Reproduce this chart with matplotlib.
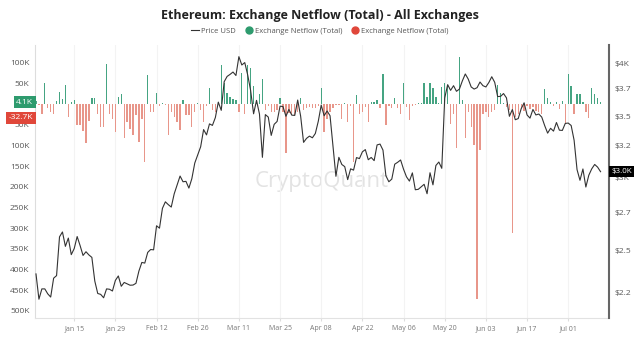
import numpy as np
import pandas as pd
import matplotlib.pyplot as plt
import matplotlib.dates as mdates
from matplotlib.lines import Line2D

plt.rcParams['font.family'] = ['Open Sans', 'DejaVu Sans']

# daily data, 2024-01-02 .. 2024-07-12
dates = pd.date_range('2024-01-02', periods=193, freq='D')

# exchange netflow in thousands of ETH
netflow_jan = [8, -3, -25, 50, -10, -20, -25, 8, 30, 12, 47, -30, 6, 10, -50,
               -50, -65, -95, -40, 14, 14, -25, -55, -55, 96, -25, -35, -68, 18, 24]
netflow_feb = [-83, -42, -60, -75, -27, -91, -35, -139, 70, -18, -18, 26, -5, 2, -3,
               -75, -20, -30, -43, -63, 10, -27, -27, -55, -18, 3, -15, -43, -5]
netflow_mar = [38, -15, -18, 3, 94, 50, 26, 18, 12, 10, -20, 75, -25, 95, 88, 45,
               10, 25, 60, -15, -5, -18, -18, -15, 15, -18, -119, -22, -27, -27, -18]
netflow_apr = [15, -15, -10, -7, -10, -10, -5, 38, -67, -35, -19, -10, -2, -2, -35,
               2, -43, -5, -139, 23, -23, -19, -6, -43, 6, 6, 10, -10, 74, -51]
netflow_may = [-5, -10, 14, -10, -23, 50, -6, -39, -5, -3, 3, 3, 52, 18, 50, 38,
               18, 2, 42, 52, 46, -47, -23, -107, 114, 10, -83, -19, -55, -99, -470]
netflow_jun = [-111, -23, -19, -31, -19, -14, 46, 26, 2, -6, -14, -312, -31, -23, -10,
               -16, -5, -12, -8, -16, -20, -24, 36, 16, 6, -4, 6, -12, 8, -48]
netflow_jul = [72, 44, -24, 24, 24, 6, -20, -32.7, 40, 24, 16, 4.1]

# ETH price in USD
price_jan = [2355, 2210, 2268, 2268, 2240, 2222, 2330, 2345, 2585, 2617, 2524, 2577,
             2472, 2510, 2587, 2529, 2467, 2490, 2470, 2455, 2313, 2242, 2237, 2218,
             2268, 2266, 2256, 2317, 2343, 2283]
price_feb = [2305, 2297, 2289, 2290, 2300, 2372, 2424, 2420, 2486, 2504, 2502, 2658,
             2642, 2777, 2823, 2803, 2786, 2880, 2944, 3012, 2969, 2972, 2922, 2992,
             3112, 3177, 3242, 3385, 3340]
price_mar = [3434, 3421, 3489, 3627, 3553, 3818, 3869, 3889, 3912, 3878, 4066, 3982,
             4006, 3883, 3734, 3522, 3643, 3520, 3157, 3515, 3493, 3336, 3430, 3455,
             3590, 3587, 3500, 3561, 3510, 3508, 3646]
price_apr = [3502, 3278, 3311, 3330, 3316, 3352, 3456, 3600, 3505, 3547, 3505, 3245,
             3010, 3157, 3101, 3084, 2985, 3067, 3057, 3155, 3147, 3201, 3219, 3138,
             3156, 3131, 3257, 3264, 3215, 3014]
price_may = [2969, 2989, 3103, 3118, 3136, 3064, 3006, 2974, 3036, 2910, 2913, 2931,
             2950, 2881, 3037, 2946, 3093, 3120, 3071, 3664, 3790, 3736, 3780, 3727,
             3748, 3826, 3893, 3843, 3768, 3748, 3761]
price_jun = [3815, 3780, 3768, 3810, 3866, 3812, 3678, 3680, 3706, 3666, 3500, 3560,
             3470, 3480, 3567, 3621, 3512, 3484, 3561, 3512, 3520, 3493, 3419, 3355,
             3396, 3372, 3446, 3380, 3378, 3438]
price_jul = [3441, 3420, 3296, 3061, 2980, 3066, 2930, 3018, 3067, 3101, 3080, 3045]

netflow = np.array(netflow_jan + netflow_feb + netflow_mar + netflow_apr
                   + netflow_may + netflow_jun + netflow_jul)
price = np.array(price_jan + price_feb + price_mar + price_apr
                 + price_may + price_jun + price_jul)

left_ticks = list(range(-500, 101, 50))
right_ticks = [2250, 2500, 2750, 3000, 3250, 3500, 3750, 4000]
right_labels = ['$2.2', '$2.5', '$2.7', '$3K', '$3.2', '$3.5', '$3.7', '$4K']
x_ticks = pd.date_range('2024-01-15', periods=13, freq='14D')

green = '#45a482'
red = '#e8968a'

fig = plt.figure(figsize=(6.4, 3.52), dpi=100)
ax = fig.add_axes([0.0547, 0.0966, 0.897, 0.775])
ax2 = ax.twinx()

pos = netflow >= 0
ax.bar(dates[pos], netflow[pos], width=0.45, color=green, linewidth=0)
ax.bar(dates[~pos], netflow[~pos], width=0.45, color=red, linewidth=0)
ax.set_ylim(-517, 142.5)
ax.set_yticks(left_ticks)
# the zero label sits under the 4.1K box, as in the reference
ax.set_yticklabels([f'{abs(v)}K' if v != 0 else '' for v in left_ticks])

ax2.plot(dates, price, color='#333333', lw=0.8)
ax2.set_yscale('log')
ax2.set_ylim(2108, 4185)
ax2.set_yticks(right_ticks)
ax2.set_yticklabels(right_labels)
ax2.yaxis.set_minor_locator(plt.NullLocator())

x0 = pd.Timestamp('2024-01-02') - pd.Timedelta(hours=8)
x1 = pd.Timestamp('2024-01-02') + pd.Timedelta(days=194.9)
ax.set_xlim(x0, x1)
ax.set_xticks(x_ticks)
ax.xaxis.set_major_formatter(mdates.DateFormatter('%b %d'))
ax.grid(axis='x', color='#f3f3f3', lw=0.8)
ax.set_axisbelow(True)

for a in (ax, ax2):
    a.spines['top'].set_visible(False)
    a.spines['left'].set_color('#dddddd')
    a.spines['bottom'].set_color('#e2e2e2')
    a.spines['right'].set_visible(False)
ax2.spines['right'].set_visible(True)
ax2.spines['right'].set_color('#666666')
ax2.spines['right'].set_linewidth(1.5)
ax2.spines['left'].set_visible(False)
ax2.spines['bottom'].set_visible(False)

ax.tick_params(axis='y', length=0, labelsize=6, colors='#555555', pad=4)
ax2.tick_params(axis='y', length=0, labelsize=6, colors='#555555', pad=4)
ax.tick_params(axis='x', length=2, color='#dddddd', labelsize=5, labelcolor='#777777', pad=3)

# value labels on the axes
ax.text(-0.003, 4.1, '4.1K', transform=ax.get_yaxis_transform(), ha='right', va='center',
        fontsize=6, color='white', zorder=10,
        bbox=dict(boxstyle='square,pad=0.3', fc='#2e9b6e', ec='none'))
ax.text(-0.003, -32.7, '-32.7K', transform=ax.get_yaxis_transform(), ha='right', va='center',
        fontsize=6, color='white', zorder=10,
        bbox=dict(boxstyle='square,pad=0.3', fc='#e0473a', ec='none'))
ax2.text(1.004, price[-1], '$3.0K', transform=ax2.get_yaxis_transform(), ha='left', va='center',
         fontsize=5.8, color='white', zorder=10,
         bbox=dict(boxstyle='square,pad=0.25', fc='black', ec='none'))

# watermark
ax.text(0.5, 0.5, 'CryptoQuant', transform=ax.transAxes, ha='center', va='center',
        fontsize=16, color='#e3e3e3', zorder=0)

fig.text(0.5, 0.957, 'Ethereum: Exchange Netflow (Total) - All Exchanges',
         ha='center', va='center', fontsize=9, fontweight='bold', color='#222222')
handles = [Line2D([], [], color='#333333', lw=0.8),
           Line2D([], [], marker='o', ls='', color='#2e9b6e', markersize=5),
           Line2D([], [], marker='o', ls='', color='#e0473a', markersize=5)]
fig.legend(handles, ['Price USD', 'Exchange Netflow (Total)', 'Exchange Netflow (Total)'],
           loc='center', bbox_to_anchor=(0.5, 0.912), ncol=3, frameon=False,
           fontsize=5.5, labelcolor='#555555', handlelength=1.0, handletextpad=0.3,
           columnspacing=1.2)

fig.savefig('out.png', dpi=100)
